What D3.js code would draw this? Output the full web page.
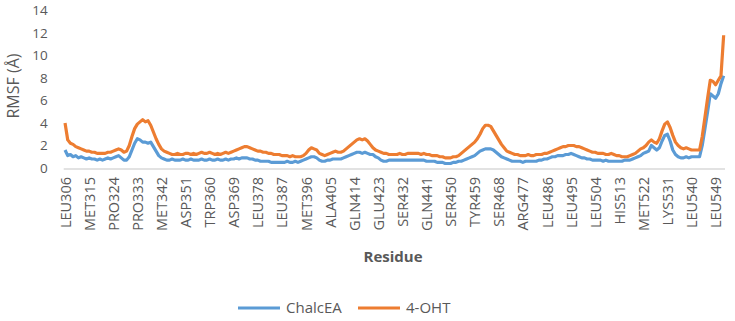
<!DOCTYPE html>
<html lang="en">
<head>
<meta charset="UTF-8">
<title>RMSF</title>
<script src="https://d3js.org/d3.v7.min.js"></script>
<style>
  body { margin: 0; background: #fff; }
  text { font-family: "Open Sans", sans-serif; fill: #595959; }
</style>
</head>
<body>
<div id="chart"></div>
<script>
// residue numbers on the category axis (one point per residue)
const firstResidue = 306;
const lastResidue = 552;

const tickLabels = ["LEU306", "MET315", "PRO324", "PRO333", "MET342", "ASP351", "TRP360",
  "ASP369", "LEU378", "LEU387", "MET396", "ALA405", "GLN414", "GLU423", "SER432", "GLN441",
  "SER450", "TYR459", "SER468", "ARG477", "LEU486", "LEU495", "LEU504", "HIS513", "MET522",
  "LYS531", "LEU540", "LEU549"];

const yTicks = [0, 2, 4, 6, 8, 10, 12, 14];

// RMSF (Å), one value per residue 306..552
const chalcea = [
  1.6, 1.1, 1.2, 1.0, 1.1, 0.9, 1.0, 0.9, 0.8, 0.9,
  0.8, 0.8, 0.7, 0.8, 0.7, 0.8, 0.9, 0.8, 0.9, 1.0,
  1.1, 0.9, 0.7, 0.7, 1.0, 1.6, 2.2, 2.6, 2.5, 2.3,
  2.3, 2.2, 2.3, 1.9, 1.5, 1.1, 0.9, 0.8, 0.7, 0.7,
  0.8, 0.7, 0.7, 0.7, 0.8, 0.7, 0.7, 0.8, 0.7, 0.7,
  0.7, 0.8, 0.7, 0.7, 0.8, 0.7, 0.7, 0.8, 0.7, 0.7,
  0.8, 0.7, 0.8, 0.8, 0.9, 0.8, 0.9, 0.9, 0.9, 0.8,
  0.8, 0.7, 0.7, 0.6, 0.6, 0.6, 0.6, 0.5, 0.5, 0.5,
  0.5, 0.5, 0.5, 0.6, 0.5, 0.5, 0.6, 0.5, 0.6, 0.7,
  0.8, 0.9, 1.0, 1.0, 0.9, 0.7, 0.6, 0.6, 0.7, 0.7,
  0.8, 0.8, 0.8, 0.8, 0.9, 1.0, 1.1, 1.2, 1.3, 1.4,
  1.4, 1.3, 1.4, 1.3, 1.2, 1.2, 1.0, 0.9, 0.7, 0.6,
  0.6, 0.7, 0.7, 0.7, 0.7, 0.7, 0.7, 0.7, 0.7, 0.7,
  0.7, 0.7, 0.7, 0.7, 0.7, 0.6, 0.6, 0.6, 0.6, 0.5,
  0.5, 0.5, 0.4, 0.4, 0.4, 0.5, 0.5, 0.6, 0.6, 0.7,
  0.8, 0.9, 1.0, 1.1, 1.3, 1.5, 1.6, 1.7, 1.7, 1.7,
  1.6, 1.4, 1.2, 1.0, 0.9, 0.8, 0.7, 0.6, 0.6, 0.6,
  0.6, 0.5, 0.6, 0.6, 0.6, 0.6, 0.6, 0.7, 0.7, 0.8,
  0.8, 0.9, 1.0, 1.0, 1.1, 1.1, 1.1, 1.2, 1.2, 1.3,
  1.2, 1.1, 1.0, 0.9, 0.9, 0.8, 0.8, 0.7, 0.7, 0.7,
  0.7, 0.6, 0.7, 0.6, 0.6, 0.6, 0.6, 0.6, 0.6, 0.7,
  0.7, 0.7, 0.8, 0.9, 1.0, 1.1, 1.3, 1.4, 1.5, 2.0,
  1.8, 1.6, 1.8, 2.4, 2.9, 3.0, 2.4, 1.6, 1.2, 1.0,
  0.9, 0.9, 1.0, 0.9, 1.0, 1.0, 1.0, 1.0, 2.0, 3.5,
  5.0, 6.6, 6.4, 6.2, 6.6, 7.5, 8.2
];

const oht = [
  4.0, 2.5, 2.2, 2.1, 1.9, 1.8, 1.7, 1.6, 1.5, 1.5,
  1.4, 1.4, 1.3, 1.3, 1.3, 1.3, 1.4, 1.4, 1.5, 1.6,
  1.7, 1.6, 1.4, 1.5, 2.0, 2.8, 3.5, 3.9, 4.1, 4.3,
  4.1, 4.2, 3.8, 3.2, 2.6, 2.1, 1.7, 1.5, 1.4, 1.3,
  1.2, 1.2, 1.3, 1.2, 1.2, 1.3, 1.3, 1.2, 1.3, 1.2,
  1.3, 1.4, 1.3, 1.3, 1.4, 1.3, 1.2, 1.3, 1.2, 1.3,
  1.4, 1.3, 1.4, 1.5, 1.6, 1.7, 1.8, 1.9, 1.9, 1.8,
  1.7, 1.6, 1.5, 1.5, 1.4, 1.4, 1.3, 1.3, 1.2, 1.2,
  1.2, 1.1, 1.1, 1.1, 1.0, 1.1, 1.0, 1.0, 1.0, 1.1,
  1.3, 1.6, 1.8, 1.7, 1.6, 1.3, 1.2, 1.1, 1.2, 1.3,
  1.4, 1.5, 1.4, 1.4, 1.5, 1.7, 1.9, 2.1, 2.3, 2.5,
  2.6, 2.5, 2.6, 2.4, 2.1, 1.8, 1.6, 1.5, 1.4, 1.3,
  1.3, 1.2, 1.2, 1.2, 1.2, 1.3, 1.2, 1.2, 1.3, 1.3,
  1.3, 1.3, 1.3, 1.2, 1.3, 1.2, 1.2, 1.1, 1.1, 1.1,
  1.0, 1.0, 0.9, 0.9, 0.9, 1.0, 1.0, 1.1, 1.3, 1.5,
  1.7, 1.9, 2.1, 2.3, 2.6, 3.0, 3.5, 3.8, 3.8, 3.7,
  3.3, 2.9, 2.5, 2.1, 1.8, 1.5, 1.4, 1.3, 1.2, 1.2,
  1.1, 1.1, 1.1, 1.2, 1.1, 1.1, 1.2, 1.2, 1.2, 1.3,
  1.3, 1.4, 1.5, 1.6, 1.7, 1.8, 1.9, 1.9, 2.0, 2.0,
  2.0, 1.9, 1.9, 1.8, 1.7, 1.6, 1.5, 1.4, 1.4, 1.3,
  1.3, 1.3, 1.2, 1.2, 1.3, 1.2, 1.1, 1.1, 1.0, 1.0,
  1.0, 1.1, 1.2, 1.3, 1.5, 1.7, 1.8, 2.0, 2.3, 2.5,
  2.3, 2.2, 2.6, 3.3, 3.9, 4.1, 3.6, 2.9, 2.3, 2.0,
  1.8, 1.7, 1.8, 1.7, 1.6, 1.6, 1.6, 1.6, 2.8, 4.5,
  6.2, 7.8, 7.7, 7.4, 7.8, 8.2, 11.8
];

const seriesNames = ["ChalcEA", "4-OHT"];
const seriesColors = ["#5B9BD5", "#ED7D31"];

const W = 735, H = 321;
const plot = { left: 63.7, right: 725, top: 10.5, bottom: 168 };

const svg = d3.select("#chart").append("svg")
  .attr("width", W).attr("height", H);

const residues = d3.range(firstResidue, lastResidue + 1);

const x = d3.scalePoint()
  .domain(residues)
  .range([plot.left, plot.right])
  .padding(0.5);

const y = d3.scaleLinear()
  .domain([0, 14])
  .range([plot.bottom, plot.top]);

// y axis: labels only
const yAxis = svg.append("g")
  .attr("transform", `translate(${plot.left},0)`)
  .call(d3.axisLeft(y).tickValues(yTicks).tickSize(0).tickPadding(16));
yAxis.select(".domain").remove();
yAxis.selectAll("text").style("font-size", "13.5px").attr("fill", "#595959");

// x axis line + rotated residue labels
const tickRes = tickLabels.map(t => +t.replace(/\D/g, ""));
const xAxis = svg.append("g")
  .attr("transform", `translate(0,${plot.bottom + 1})`)
  .call(d3.axisBottom(x).tickValues(tickRes).tickSize(0)
    .tickFormat(r => tickLabels[tickRes.indexOf(r)]));
xAxis.select(".domain")
  .attr("stroke", "#d9d9d9").attr("stroke-width", 1.5)
  .attr("d", `M${plot.left},0H${plot.right}`);
xAxis.selectAll("text")
  .attr("transform", "rotate(-90)")
  .attr("x", -8).attr("y", 0).attr("dy", "0.35em")
  .attr("text-anchor", "end")
  .attr("fill", "#595959")
  .style("font-size", "14.5px");

// lines
const line = d3.line()
  .x((d, i) => x(residues[i]))
  .y(d => y(d));

[chalcea, oht].forEach((vals, k) => {
  svg.append("path")
    .datum(vals)
    .attr("fill", "none")
    .attr("stroke", seriesColors[k])
    .attr("stroke-width", 3.2)
    .attr("stroke-linejoin", "round")
    .attr("d", line);
});

// axis titles
svg.append("text")
  .attr("transform", "translate(19,86) rotate(-90)")
  .attr("text-anchor", "middle")
  .style("font-size", "16px")
  .text("RMSF (Å)");

svg.append("text")
  .attr("x", 393).attr("y", 262)
  .attr("text-anchor", "middle")
  .style("font-size", "15px").style("font-weight", "bold")
  .text("Residue");

// legend
const legend = svg.append("g").attr("transform", "translate(238,308)");
const legendX = [0, 120];
seriesNames.forEach((name, k) => {
  const g = legend.append("g").attr("transform", `translate(${legendX[k]},0)`);
  g.append("line")
    .attr("x1", 0).attr("x2", 42)
    .attr("stroke", seriesColors[k]).attr("stroke-width", 3.2);
  g.append("text")
    .attr("x", 48).attr("dy", "0.35em")
    .style("font-size", "15px")
    .text(name);
});
</script>
</body>
</html>
